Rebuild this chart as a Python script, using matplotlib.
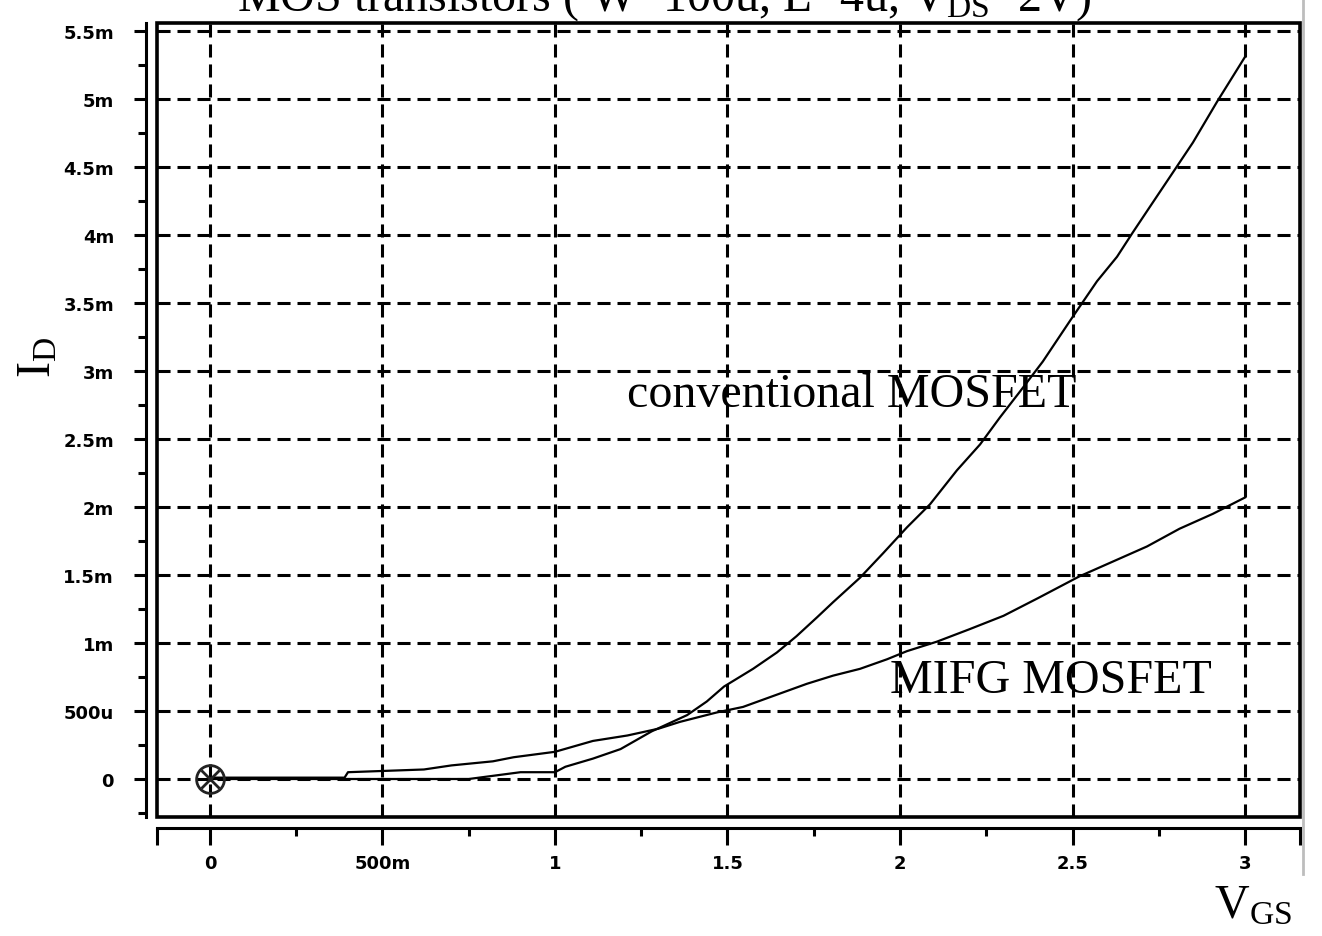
import matplotlib
matplotlib.use("Agg")
import matplotlib.pyplot as plt
from matplotlib.patches import Rectangle
from matplotlib.lines import Line2D

plt.rcParams['lines.scale_dashes'] = False
plt.rcParams['mathtext.fontset'] = 'custom'
plt.rcParams['mathtext.rm'] = 'Liberation Serif'
plt.rcParams['mathtext.it'] = 'Liberation Serif:italic'

# ---- data (V_GS in volts, I_D in mA) ----
vgs_conv = [0.0, 0.5, 0.75, 0.9, 1.0, 1.03, 1.11, 1.19, 1.28, 1.383, 1.44, 1.49, 1.574,
            1.643, 1.70, 1.76, 1.806, 1.884, 1.951, 2.02, 2.087, 2.165, 2.232, 2.29,
            2.348, 2.414, 2.493, 2.571, 2.629, 2.675, 2.725, 2.791, 2.849, 2.919, 3.0]
id_conv = [0.0, 0.0, 0.0, 0.05, 0.05, 0.09, 0.15, 0.22, 0.35, 0.47, 0.57, 0.68, 0.81,
           0.93, 1.05, 1.19, 1.30, 1.48, 1.66, 1.85, 2.02, 2.27, 2.46, 2.66,
           2.85, 3.07, 3.37, 3.66, 3.84, 4.02, 4.21, 4.46, 4.68, 4.98, 5.31]

vgs_mifg = [0.0, 0.39, 0.40, 0.62, 0.70, 0.82, 0.88, 1.0, 1.11, 1.21, 1.30, 1.362, 1.47,
            1.545, 1.632, 1.73, 1.806, 1.884, 1.962, 2.02, 2.107, 2.2, 2.3, 2.4, 2.52,
            2.618, 2.716, 2.81, 2.907, 3.0]
id_mifg = [0.01, 0.01, 0.05, 0.07, 0.10, 0.13, 0.16, 0.20, 0.28, 0.32, 0.37, 0.42, 0.49,
           0.53, 0.61, 0.70, 0.76, 0.81, 0.88, 0.94, 1.01, 1.10, 1.20, 1.33, 1.49,
           1.60, 1.71, 1.84, 1.95, 2.07]

x_ticks = [0, 0.5, 1.0, 1.5, 2.0, 2.5, 3.0]
x_labels = ['0', '500m', '1', '1.5', '2', '2.5', '3']
x_minor = [0.25, 0.75, 1.25, 1.75, 2.25, 2.75]
y_ticks = [0, 0.5, 1.0, 1.5, 2.0, 2.5, 3.0, 3.5, 4.0, 4.5, 5.0, 5.5]
y_labels = ['0', '500u', '1m', '1.5m', '2m', '2.5m', '3m', '3.5m', '4m', '4.5m', '5m', '5.5m']
y_minor = [-0.25, 0.25, 0.75, 1.25, 1.75, 2.25, 2.75, 3.25, 3.75, 4.25, 4.75, 5.25]

title = 'MOS transistors ( W=100u, L=4u, V$_{\\mathrm{DS}}$=2V)'
label_conv = 'conventional MOSFET'
label_mifg = 'MIFG MOSFET'

# ---- figure ----
W, H = 1322, 937
fig = plt.figure(figsize=(W / 100, H / 100), dpi=100)
ax = fig.add_axes([157 / W, 1 - 818 / H, (1300 - 157) / W, (818 - 24) / H])
xlim = (-0.1536, 3.1594)
ylim = (-0.2794, 5.559)
ax.set_xlim(*xlim)
ax.set_ylim(*ylim)

dash = (0, (9.4, 5.0))
for xv in x_ticks:
    ax.axvline(xv, color='black', lw=2.2, ls=dash, zorder=1)
for yv in y_ticks:
    ax.axhline(yv, color='black', lw=2.2, ls=dash, zorder=1)

ax.plot(vgs_mifg, id_mifg, color='black', lw=1.6, zorder=3)
ax.plot(vgs_conv, id_conv, color='black', lw=1.6, zorder=3)
ax.plot([0], [0], marker='o', mfc='none', mec='#222222', ms=20, mew=2.0, zorder=4, clip_on=False)
ax.plot([0], [0], marker='x', mec='#222222', ms=13, mew=2.0, zorder=4)

ax.text(1.209, 2.743, label_conv, fontsize=34.6, family='Liberation Serif', va='baseline', ha='left', zorder=4)
ax.text(1.971, 0.64, label_mifg, fontsize=34.6, family='Liberation Serif', va='baseline', ha='left', zorder=4)

# frame
ax.add_patch(Rectangle((0, 0), 1, 1, transform=ax.transAxes, fill=False, lw=2.6,
                       ec='black', clip_on=False, zorder=6))

for s in ['top', 'right']:
    ax.spines[s].set_visible(False)
for s in ['left', 'bottom']:
    ax.spines[s].set_position(('outward', 8))
    ax.spines[s].set_linewidth(2.2)

ax.set_xticks([xlim[0]] + x_ticks + [xlim[1]], [''] + x_labels + [''])
ax.set_xticks(x_minor, minor=True)
ax.set_yticks(y_ticks, y_labels)
ax.set_yticks(y_minor, minor=True)

for lab in ax.get_xticklabels() + ax.get_yticklabels():
    lab.set_fontfamily('DejaVu Sans')
    lab.set_fontweight('bold')
    lab.set_fontsize(13)

ax.tick_params(axis='x', which='major', direction='out', length=12, width=2.2, pad=7)
ax.tick_params(axis='x', which='minor', direction='out', length=6, width=2.2)
ax.tick_params(axis='y', which='major', direction='out', length=9, width=2.2, pad=14)
ax.tick_params(axis='y', which='minor', direction='out', length=6, width=2.2)

# texts outside
fig.text(664 / W, 1 - 11 / H, title, ha='center', va='baseline', fontsize=34.6,
         family='Liberation Serif')
fig.text(38 / W, 1 - 357 / H, 'I$_{\\mathrm{D}}$', rotation=90, ha='center', va='center',
         fontsize=34.6, family='Liberation Serif')
fig.text(1292 / W, 1 - 918 / H, 'V$_{\\mathrm{GS}}$', ha='right', va='baseline',
         fontsize=34.6, family='Liberation Serif')

fig.add_artist(Line2D([1303 / W, 1303 / W], [1.0, 1 - 875 / H], color='#bdbdbd', lw=2,
                      transform=fig.transFigure))

fig.savefig('out.png', dpi=100)
